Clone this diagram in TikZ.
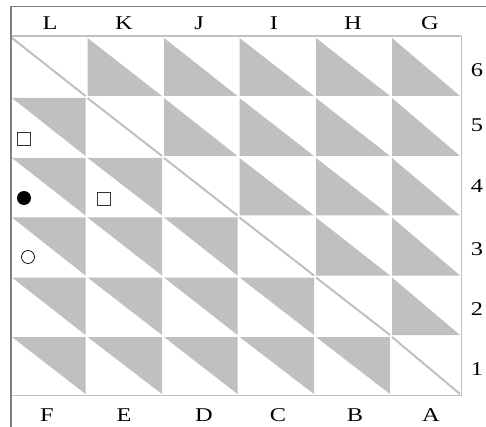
\documentclass[tikz,border=0pt]{standalone}
\usepackage{fontspec}
\setmainfont{Liberation Serif}
\definecolor{cellgray}{RGB}{192,192,192}
\definecolor{framegray}{RGB}{128,128,128}
\newcommand\sx[1]{\scalebox{1.25}[1]{#1}}
\begin{document}
\begin{tikzpicture}[x=1pt,y=-1pt,
  lbl/.style={font=\fontsize{19.5}{20}\selectfont, inner sep=0pt, anchor=base},
  mark sq/.style={draw=black!80, line width=0.9pt},
  gridline/.style={draw=cellgray, line width=1pt}]
\useasboundingbox (0,0) rectangle (486,427);
\fill[white] (0,0) rectangle (486,427);
\def\xs{{11,86.5,163,238.5,315,391,461}}
\def\ys{{37,97,157,216.5,276.5,336,395}}
\foreach \r in {0,...,5}{
  \foreach \c in {0,...,5}{
    \pgfmathsetmacro\xa{\xs[\c]+1}
    \pgfmathsetmacro\xb{\xs[\c+1]-1}
    \pgfmathsetmacro\ya{\ys[\r]+1}
    \pgfmathsetmacro\yb{\ys[\r+1]-1}
    \ifnum\c<\r
      \fill[cellgray] (\xa,\ya) -- (\xb,\ya) -- (\xb,\yb) -- cycle;
    \fi
    \ifnum\c>\r
      \fill[cellgray] (\xa,\ya) -- (\xa,\yb) -- (\xb,\yb) -- cycle;
    \fi
    \ifnum\c=\r
      \draw[cellgray, line width=2pt] (\xa,\ya) -- (\xb,\yb);
    \fi
  }
}
% grid borders
\draw[cellgray, line width=2.2pt] (11,36) -- (461,36);
\draw[gridline] (461,36) -- (461,395.5) -- (11,395.5);
% outer frame
\draw[framegray, line width=1.3pt] (11,6.5) -- (486,6.5);
\draw[framegray, line width=1.5pt] (11,6.5) -- (11,427);
% markers
\draw[mark sq] (17.5,132.5) rectangle (30.5,145.5);
\draw[mark sq] (97,192.5) rectangle (110,205.5);
\fill[black] (24,198) circle (7);
\draw[black, line width=0.7pt] (28,257) circle (6.5);
% top labels
\node[lbl] (tL) at (50,30) {\sx{L}};
\node[lbl] (tK) at (124,30) {\sx{K}};
\node[lbl] (tJ) at (199,30) {\sx{J}};
\node[lbl] (tI) at (274,30) {\sx{I}};
\node[lbl] (tH) at (353,30) {\sx{H}};
\node[lbl] (tG) at (430,30) {\sx{G}};
% bottom labels
\node[lbl] (bF) at (47,421) {\sx{F}};
\node[lbl] (bE) at (124,421) {\sx{E}};
\node[lbl] (bD) at (204,421) {\sx{D}};
\node[lbl] (bC) at (278,421) {\sx{C}};
\node[lbl] (bB) at (355,421) {\sx{B}};
\node[lbl] (bA) at (431,421) {\sx{A}};
% right labels
\node[lbl] (r6) at (477,77) {\sx{6}};
\node[lbl] (r5) at (477,132) {\sx{5}};
\node[lbl] (r4) at (477,193) {\sx{4}};
\node[lbl] (r3) at (477,255) {\sx{3}};
\node[lbl] (r2) at (477,315) {\sx{2}};
\node[lbl] (r1) at (477,375) {\sx{1}};
\end{tikzpicture}
\end{document}
